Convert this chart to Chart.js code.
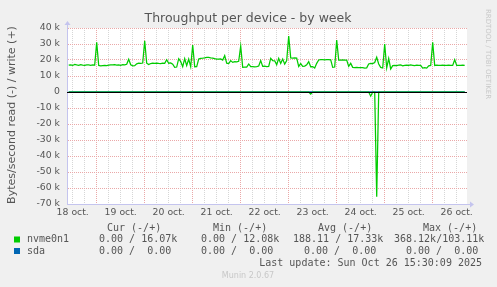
<!DOCTYPE html>
<html>
<head>
<meta charset="utf-8">
<script src="https://cdn.jsdelivr.net/npm/chart.js@4.4.1/dist/chart.umd.min.js"></script>
<style>
  html, body { margin: 0; padding: 0; background: #f0f0f0; }
  #chart { display: block; }
</style>
</head>
<body>
<canvas id="chart" width="497" height="287"></canvas>
<script>
// hours counted from 18 oct. 00:00, one sample per hour
const startHour = 10;

// nvme0n1 write, k bytes/s
const nvmeWrite = [
  16.8, 17.0, 16.6, 17.2, 16.9, 16.7, 17.1, 16.8, 16.6, 17.0, 16.9, 16.7, 17.0, 16.8,
  31.0,
  16.6, 16.4, 16.5, 16.6, 16.5, 16.8, 17.0, 16.9, 17.1, 16.8, 17.0, 16.7, 17.1, 16.9, 17.3, 20.4, 17.0, 16.4, 16.5, 17.6, 18.0, 17.9, 18.1,
  32.0,
  18.0, 17.2, 17.8, 18.0, 17.9, 18.1, 17.9, 17.8, 18.0, 17.9, 20.2, 18.0, 18.2, 17.4, 15.4, 15.6, 20.8, 19.0, 15.8, 20.8, 16.5, 20.6, 15.8,
  29.4,
  15.8, 15.9, 20.6, 21.0, 21.1, 21.3, 21.7, 21.6, 21.3, 21.2, 20.8, 20.6, 20.5, 20.7, 20.0, 22.7, 18.0, 17.8, 19.6, 18.5, 19.0, 18.9, 19.2,
  28.7,
  15.4, 15.5, 15.6, 17.5, 15.8, 15.9, 15.7, 15.8, 16.2, 19.6, 16.0, 16.1, 15.9, 16.0, 21.0, 19.6, 19.5, 17.0, 21.0, 17.9, 20.6, 17.4, 19.6,
  35.0,
  21.3, 21.2, 21.3, 21.2, 16.0, 17.8, 16.0, 16.2, 17.0, 19.0, 15.8, 15.9, 15.0, 17.9, 20.0, 20.2, 20.2, 20.1, 20.2, 20.2, 20.1, 15.4, 15.6,
  32.5,
  20.0, 20.0, 20.1, 20.0, 20.0, 16.0, 17.9, 15.4, 15.3, 15.4, 15.3, 15.2, 15.3, 15.0, 15.1, 17.5, 17.9, 17.8, 18.4, 21.7, 17.5, 15.4, 15.0,
  30.0,
  15.0, 21.0, 14.4, 16.5, 16.7, 16.5, 16.8, 16.9, 16.4, 16.7, 16.8, 16.6, 16.9, 16.7, 16.5, 16.8, 16.6, 16.7, 15.0, 15.2, 14.9, 16.4, 16.6,
  31.0,
  16.6, 16.8, 16.7, 16.6, 16.8, 16.7, 16.6, 16.8, 16.7, 16.6, 20.2, 16.6, 16.7, 16.6, 16.8, 16.7
];

// nvme0n1 read, k bytes/s (drawn below zero)
const nvmeRead = [
  0, 0, 0, 0, 0, 0, 0, 0, 0, 0, 0, 0, 0, 0,
  0, 0, 0, 0, 0, 0, 0, 0, 0, 0, 0, 0, 0, 0, 0, 0, 0, 0, 0, 0, 0, 0, 0, 0,
  0, 0, 0, 0, 0, 0, 0, 0, 0, 0, 0, 0, 0, 0, 0, 0, 0, 0, 0, 0, 0, 0, 0, 0,
  0, 0, 0, 0, 0, 0, 0, 0, 0, 0, 0, 0, 0, 0, 0, 0, 0, 0, 0, 0, 0, 0, 0, 0,
  0, 0, 0, 0, 0, 0, 0, 0, 0, 0, 0, 0, 0, 0, 0, 0, 0, 0, 0, 0, 0, 0, 0, 0,
  0, 0, 0, 0, 0, 0, 0, 0, 0, 0, 0, 1.3, 0, 0, 0, 0, 0, 0, 0, 0, 0, 0, 0, 0,
  0, 0, 0, 0, 0, 0, 0, 0, 0, 0, 0, 0, 0, 0, 0, 0, 0, 2.6, 0, 0, 65.5, 0, 0, 0,
  0, 0, 0, 0, 0, 0, 0, 0, 0, 0, 0, 0, 0, 0, 0, 0, 0, 0, 0, 0, 0, 0, 0, 0,
  0, 0, 0, 0, 0, 0, 0, 0, 0, 0, 0, 0, 0, 0, 0, 0, 0
];

// sda read and write, all zero this week
const sdaValues = [
  0, 0, 0, 0, 0, 0, 0, 0, 0, 0, 0, 0, 0, 0,
  0, 0, 0, 0, 0, 0, 0, 0, 0, 0, 0, 0, 0, 0, 0, 0, 0, 0, 0, 0, 0, 0, 0, 0,
  0, 0, 0, 0, 0, 0, 0, 0, 0, 0, 0, 0, 0, 0, 0, 0, 0, 0, 0, 0, 0, 0, 0, 0,
  0, 0, 0, 0, 0, 0, 0, 0, 0, 0, 0, 0, 0, 0, 0, 0, 0, 0, 0, 0, 0, 0, 0, 0,
  0, 0, 0, 0, 0, 0, 0, 0, 0, 0, 0, 0, 0, 0, 0, 0, 0, 0, 0, 0, 0, 0, 0, 0,
  0, 0, 0, 0, 0, 0, 0, 0, 0, 0, 0, 0, 0, 0, 0, 0, 0, 0, 0, 0, 0, 0, 0, 0,
  0, 0, 0, 0, 0, 0, 0, 0, 0, 0, 0, 0, 0, 0, 0, 0, 0, 0, 0, 0, 0, 0, 0, 0,
  0, 0, 0, 0, 0, 0, 0, 0, 0, 0, 0, 0, 0, 0, 0, 0, 0, 0, 0, 0, 0, 0, 0, 0,
  0, 0, 0, 0, 0, 0, 0, 0, 0, 0, 0, 0, 0, 0, 0, 0, 0
];

const dayLabels = ['18 oct.', '19 oct.', '20 oct.', '21 oct.', '22 oct.', '23 oct.', '24 oct.', '25 oct.', '26 oct.'];
const yTickValues = [40, 30, 20, 10, 0, -10, -20, -30, -40, -50, -60, -70];
const yTickLabels = ['40 k', '30 k', '20 k', '10 k', '0', '-10 k', '-20 k', '-30 k', '-40 k', '-50 k', '-60 k', '-70 k'];

const seriesNames = ['nvme0n1', 'sda'];
const seriesColors = ['#00cc00', '#0066b3'];
const statHeaders = ['Cur (-/+)', 'Min (-/+)', 'Avg (-/+)', 'Max (-/+)'];
const statRows = [
  ['0.00 / 16.07k', '0.00 / 12.08k', '188.11 / 17.33k', '368.12k/103.11k'],
  ['0.00 /  0.00', '0.00 /  0.00', '0.00 /  0.00', '0.00 /  0.00']
];
const lastUpdate = 'Last update: Sun Oct 26 15:30:09 2025';

const toPoints = (arr, sign) => arr.map((v, i) => ({ x: startHour + i, y: sign * v }));

const majorGrid = '#eaa8a8';
const minorGrid = '#d6d6d6';
const axisColor = '#c4c4ee';
const textColor = '#555555';

// munin look: white canvas, zero rule, axis arrows, titles and legend table
const muninDecor = {
    id: 'muninDecor',
    beforeDraw(chart) {
        const { ctx, chartArea: a } = chart;
        ctx.save();
        ctx.fillStyle = '#f0f0f0';
        ctx.fillRect(0, 0, chart.width, chart.height);
        ctx.fillStyle = '#ffffff';
        ctx.fillRect(a.left, a.top, a.right - a.left, a.bottom - a.top);
        ctx.restore();
    },
    afterDatasetsDraw(chart) {
        const { ctx, chartArea: a } = chart;
        const y0 = Math.round(chart.scales.y.getPixelForValue(0)) + 0.5;
        ctx.save();
        ctx.strokeStyle = '#000000';
        ctx.lineWidth = 1;
        ctx.beginPath();
        ctx.moveTo(a.left, y0);
        ctx.lineTo(a.right, y0);
        ctx.stroke();

        // axis arrows
        const ax = Math.round(a.left) + 0.5;
        const ay = Math.round(a.bottom) + 0.5;
        ctx.strokeStyle = axisColor;
        ctx.fillStyle = axisColor;
        ctx.beginPath();
        ctx.moveTo(ax, a.top);
        ctx.lineTo(ax, a.top - 4);
        ctx.moveTo(a.right, ay);
        ctx.lineTo(a.right + 3, ay);
        ctx.stroke();
        ctx.beginPath();
        ctx.moveTo(ax, a.top - 7);
        ctx.lineTo(ax - 3, a.top - 3);
        ctx.lineTo(ax + 3, a.top - 3);
        ctx.closePath();
        ctx.fill();
        ctx.beginPath();
        ctx.moveTo(a.right + 7, ay);
        ctx.lineTo(a.right + 3, ay - 3);
        ctx.lineTo(a.right + 3, ay + 3);
        ctx.closePath();
        ctx.fill();
        ctx.restore();
    },
    afterDraw(chart) {
        const { ctx } = chart;
        ctx.save();
        ctx.textBaseline = 'middle';

        ctx.fillStyle = textColor;
        ctx.font = '12.5px "DejaVu Sans"';
        ctx.textAlign = 'center';
        ctx.fillText('Throughput per device - by week', 248, 19);

        ctx.save();
        ctx.translate(12, 115);
        ctx.rotate(-Math.PI / 2);
        ctx.font = '11px "DejaVu Sans"';
        ctx.fillText('Bytes/second read (-) / write (+)', 0, 0);
        ctx.restore();

        ctx.save();
        ctx.translate(488, 54);
        ctx.rotate(Math.PI / 2);
        ctx.fillStyle = '#c8c8c8';
        ctx.font = '7px "DejaVu Sans"';
        ctx.fillText('RRDTOOL / TOBI OETIKER', 0, 0);
        ctx.restore();

        // legend table
        ctx.font = '10px "DejaVu Sans Mono"';
        ctx.textAlign = 'left';
        ctx.fillStyle = textColor;
        const headerX = [107, 213, 318, 423];
        statHeaders.forEach((h, i) => ctx.fillText(h, headerX[i], 228));
        const cellX = [[99, 201, 293, 394], [99, 201, 304, 406]];
        const rowY = [239.5, 251];
        seriesNames.forEach((name, r) => {
            ctx.fillStyle = seriesColors[r];
            ctx.fillRect(14, rowY[r] - 3, 6, 6);
            ctx.fillStyle = textColor;
            ctx.fillText(name, 27, rowY[r]);
            statRows[r].forEach((s, c) => ctx.fillText(s, cellX[r][c], rowY[r]));
        });
        ctx.textAlign = 'right';
        ctx.fillText(lastUpdate, 482, 263.5);

        ctx.textAlign = 'center';
        ctx.fillStyle = '#c8c8c8';
        ctx.font = '8px "DejaVu Sans"';
        ctx.fillText('Munin 2.0.67', 248, 276);
        ctx.restore();
    }
};

const lineStyle = { borderWidth: 1.25, pointRadius: 0, tension: 0, fill: false };

new Chart(document.getElementById('chart').getContext('2d'), {
    type: 'line',
    data: {
        datasets: [
            { label: 'nvme0n1 read', data: toPoints(nvmeRead, -1), borderColor: seriesColors[0], ...lineStyle },
            { label: 'nvme0n1 write', data: toPoints(nvmeWrite, 1), borderColor: seriesColors[0], ...lineStyle },
            { label: 'sda read', data: toPoints(sdaValues, -1), borderColor: seriesColors[1], ...lineStyle },
            { label: 'sda write', data: toPoints(sdaValues, 1), borderColor: seriesColors[1], ...lineStyle }
        ]
    },
    options: {
        responsive: false,
        animation: false,
        devicePixelRatio: 1,
        layout: { padding: { left: 0, right: 30, top: 28, bottom: 0 } },
        plugins: { legend: { display: false }, tooltip: { enabled: false }, title: { display: false } },
        scales: {
            x: {
                type: 'linear',
                min: 9.15,
                max: 209.15,
                afterBuildTicks: (scale) => {
                    const ticks = [];
                    for (let h = 12; h <= 204; h += 6) ticks.push({ value: h });
                    scale.ticks = ticks;
                },
                afterFit: (scale) => { scale.height = 83; },
                ticks: {
                    autoSkip: false,
                    maxRotation: 0,
                    padding: 3,
                    color: textColor,
                    font: { family: 'DejaVu Sans', size: 9.3 },
                    callback: (value) => (value % 24 === 12 ? dayLabels[(value - 12) / 24] : '')
                },
                grid: {
                    drawTicks: false,
                    color: (ctx) => (ctx.tick && ctx.tick.value % 24 === 0 ? majorGrid : minorGrid)
                },
                border: { color: axisColor, width: 1, dash: [1, 1] }
            },
            y: {
                min: -70,
                max: 40,
                afterFit: (scale) => { scale.width = 67; },
                ticks: {
                    stepSize: 5,
                    padding: 7,
                    color: textColor,
                    font: { family: 'DejaVu Sans', size: 9.3 },
                    callback: (value) => {
                        const i = yTickValues.indexOf(value);
                        return i >= 0 ? yTickLabels[i] : '';
                    }
                },
                grid: {
                    drawTicks: false,
                    color: (ctx) => (ctx.tick && ctx.tick.value % 10 === 0 ? majorGrid : minorGrid)
                },
                border: { color: axisColor, width: 1, dash: [1, 1] }
            }
        }
    },
    plugins: [muninDecor]
});
</script>
</body>
</html>
